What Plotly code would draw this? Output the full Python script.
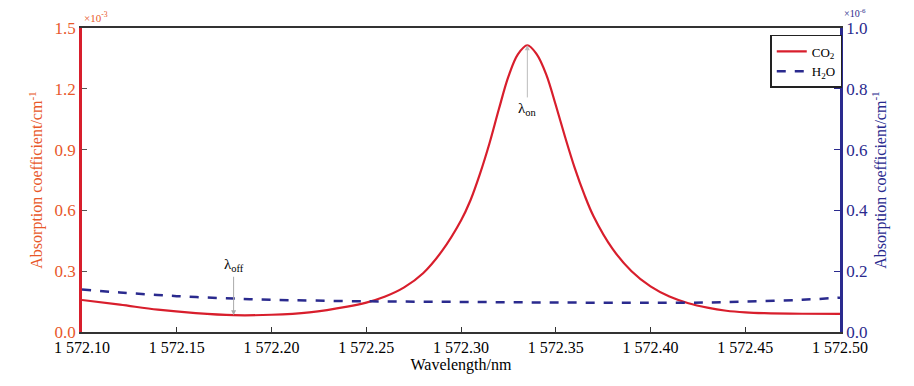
import plotly.graph_objects as go

# CO2 absorption coefficient (x10^-3 cm^-1)
co2_wl = [1572.10, 1572.12, 1572.14, 1572.16, 1572.18, 1572.20, 1572.22, 1572.24, 1572.25,
          1572.26, 1572.27, 1572.28, 1572.29, 1572.30, 1572.305, 1572.31, 1572.315, 1572.32,
          1572.325, 1572.33, 1572.335, 1572.34, 1572.345, 1572.35, 1572.355, 1572.36,
          1572.365, 1572.37, 1572.38, 1572.39, 1572.40, 1572.41, 1572.42, 1572.43, 1572.44,
          1572.45, 1572.46, 1572.48, 1572.50]
co2_val = [0.158, 0.135, 0.110, 0.093, 0.083, 0.085, 0.097, 0.125, 0.145,
           0.175, 0.22, 0.29, 0.40, 0.55, 0.65, 0.78, 0.93, 1.10,
           1.26, 1.37, 1.415, 1.37, 1.27, 1.12, 0.96, 0.81,
           0.68, 0.57, 0.41, 0.30, 0.225, 0.175, 0.142, 0.120, 0.105,
           0.097, 0.093, 0.090, 0.089]

# H2O absorption coefficient (x10^-6 cm^-1)
h2o_wl = [1572.10, 1572.12, 1572.15, 1572.18, 1572.20, 1572.25, 1572.30, 1572.35, 1572.40,
          1572.43, 1572.45, 1572.48, 1572.50]
h2o_val = [0.140, 0.130, 0.118, 0.110, 0.106, 0.101, 0.099, 0.097, 0.096,
           0.097, 0.100, 0.106, 0.113]

x_ticks = [1572.10, 1572.15, 1572.20, 1572.25, 1572.30, 1572.35, 1572.40, 1572.45, 1572.50]
x_labels = ["1 572.10", "1 572.15", "1 572.20", "1 572.25", "1 572.30", "1 572.35",
            "1 572.40", "1 572.45", "1 572.50"]
y1_ticks = [0.0, 0.3, 0.6, 0.9, 1.2, 1.5]
y1_labels = ["0.0", "0.3", "0.6", "0.9", "1.2", "1.5"]
y2_ticks = [0.0, 0.2, 0.4, 0.6, 0.8, 1.0]
y2_labels = ["0.0", "0.2", "0.4", "0.6", "0.8", "1.0"]

lambda_on = 1572.335
lambda_off = 1572.18

RED = "#d81e2c"
ORANGE = "#e8582a"
NAVY = "#2a2a8e"
FONT = "Liberation Serif"

fig = go.Figure()
fig.add_trace(go.Scatter(x=co2_wl, y=co2_val, mode="lines", name="CO<sub>2</sub>",
                         line=dict(color=RED, width=2.2, shape="spline", smoothing=1.0)))
fig.add_trace(go.Scatter(x=h2o_wl, y=h2o_val, mode="lines", name="H<sub>2</sub>O", yaxis="y2",
                         line=dict(color=NAVY, width=2.5, dash="dash", shape="spline")))

# the page body adds an 8px offset, so the figure is sized/margined to compensate
fig.update_layout(
    width=906, height=378,
    margin=dict(l=74, r=74, t=20, b=54),
    paper_bgcolor="white", plot_bgcolor="white",
    font=dict(family=FONT, size=15, color="black"),
    showlegend=True,
    legend=dict(x=0.908, y=0.977, xanchor="left", yanchor="top",
                bordercolor="#222", borderwidth=1.5, bgcolor="white",
                font=dict(family=FONT, size=13), tracegroupgap=2,
                itemwidth=30),
    xaxis=dict(range=[1572.10, 1572.50], tickvals=x_ticks, ticktext=x_labels,
               showgrid=False, zeroline=False, showline=True, linecolor="#333",
               linewidth=1.5, mirror=True, ticks="inside", ticklen=5, tickcolor="#333",
               tickfont=dict(family=FONT, size=16, color="black"),
               title=dict(text="Wavelength/nm", font=dict(family=FONT, size=16), standoff=3)),
    yaxis=dict(range=[0, 1.5], tickvals=y1_ticks, ticktext=y1_labels,
               showgrid=False, zeroline=False, showline=True, linecolor=RED, linewidth=2.5,
               ticks="inside", ticklen=5, tickcolor="#555",
               tickfont=dict(family=FONT, size=17, color=ORANGE),
               title=dict(text="Absorption coefficient/cm<sup>-1</sup>",
                          font=dict(family=FONT, size=16, color=ORANGE), standoff=8)),
    yaxis2=dict(range=[0, 1.0], tickvals=y2_ticks, ticktext=y2_labels, overlaying="y", side="right",
                showgrid=False, zeroline=False, showline=True, linecolor=NAVY, linewidth=2.5,
                ticks="inside", ticklen=6, tickcolor=NAVY,
                tickfont=dict(family=FONT, size=17, color=NAVY),
                title=dict(text="Absorption coefficient/cm<sup>-1</sup>",
                           font=dict(family=FONT, size=16, color=NAVY), standoff=8)),
)

fig.add_annotation(x=0, y=1.0, xref="paper", yref="paper", text="×10<sup>-3</sup>",
                   showarrow=False, xanchor="left", yanchor="bottom", yshift=2,
                   font=dict(family=FONT, size=11, color=ORANGE))
fig.add_annotation(x=1.0, y=1.0, xref="paper", yref="paper", text="×10<sup>-6</sup>",
                   showarrow=False, xanchor="left", yanchor="bottom", yshift=7, xshift=2,
                   font=dict(family=FONT, size=10, color=NAVY))

# lambda_on arrow
fig.add_annotation(x=lambda_on, y=1.415, xref="x", yref="y", ax=lambda_on, ay=1.15,
                   axref="x", ayref="y", showarrow=True, arrowhead=2, arrowsize=1,
                   arrowwidth=1, arrowcolor="#bbbbbb", text="")
fig.add_annotation(x=lambda_on, y=1.10, xref="x", yref="y", text="λ<sub>on</sub>",
                   showarrow=False, font=dict(family=FONT, size=15, color="black"))
# lambda_off arrow
fig.add_annotation(x=lambda_off, y=0.083, xref="x", yref="y", ax=lambda_off, ay=0.28,
                   axref="x", ayref="y", showarrow=True, arrowhead=2, arrowsize=1,
                   arrowwidth=1, arrowcolor="#aaaaaa", text="")
fig.add_annotation(x=lambda_off, y=0.33, xref="x", yref="y", text="λ<sub>off</sub>",
                   showarrow=False, font=dict(family=FONT, size=15, color="black"))

fig.write_html("out.html")
